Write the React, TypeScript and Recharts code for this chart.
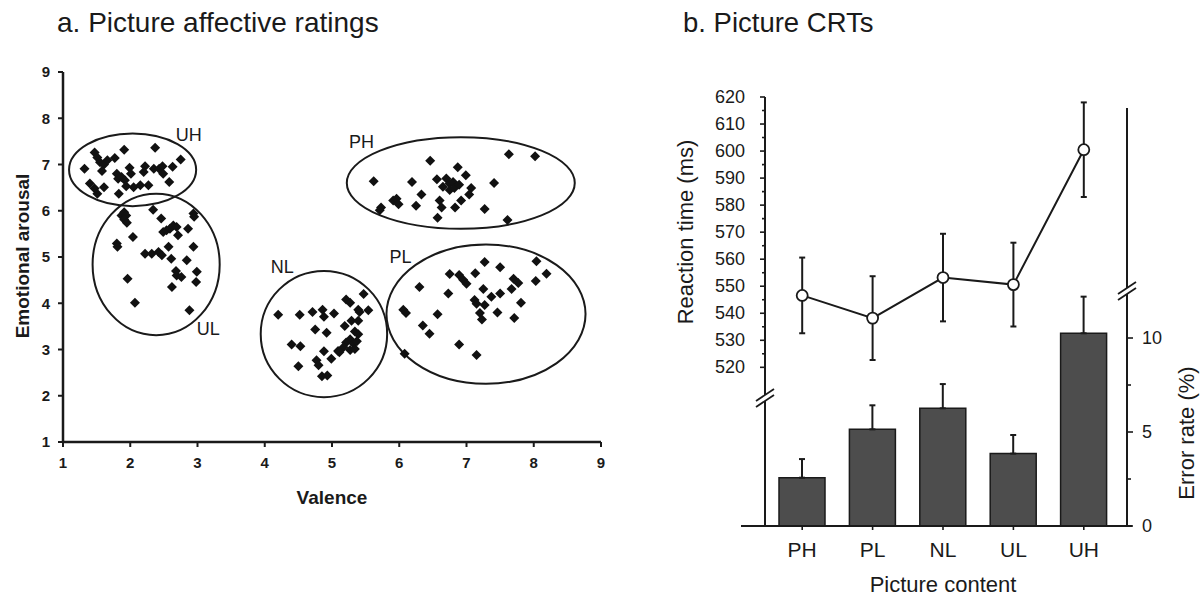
import React from 'react';
import {
  ScatterChart, Scatter, XAxis, YAxis, ReferenceArea, ReferenceDot,
  ComposedChart, Bar, Line, ErrorBar,
} from 'recharts';

const FONT = '"Liberation Sans", Arial, Helvetica, sans-serif';
const INK = '#1a1a1a';

// ---------- Panel a: picture affective ratings (valence, arousal) ----------
const uhPoints: [number, number][] = [
  [1.32, 6.91], [1.47, 7.26], [1.51, 7.15], [1.55, 7.05], [1.61, 7.0], [1.58, 6.86], [1.66, 7.09],
  [1.77, 7.14], [1.91, 7.32], [1.8, 6.8], [1.82, 6.69], [1.87, 6.73], [1.92, 6.66], [1.99, 6.93],
  [2.01, 6.8], [2.05, 6.51], [2.15, 6.55], [2.22, 6.96], [2.2, 6.84], [2.27, 6.55], [2.37, 7.36],
  [2.35, 6.91], [2.43, 6.91], [2.48, 6.96], [2.49, 6.8], [2.58, 6.62], [2.63, 6.95], [2.75, 7.11],
  [1.4, 6.59], [1.47, 6.48], [1.51, 6.37], [1.61, 6.51], [1.83, 6.37], [1.94, 6.53],
];
const ulPoints: [number, number][] = [
  [1.91, 5.97], [1.87, 5.9], [1.94, 5.9], [1.91, 5.81], [1.95, 5.74], [1.8, 5.29], [1.81, 5.22],
  [2.04, 5.43], [2.34, 6.02], [2.46, 5.83], [2.49, 5.54], [2.54, 5.58], [2.59, 5.61], [2.64, 5.68],
  [2.69, 5.65], [2.71, 5.47], [2.86, 5.61], [2.94, 5.94], [2.95, 5.87], [2.94, 5.22], [2.22, 5.07],
  [2.32, 5.07], [2.42, 5.11], [2.47, 5.04], [2.57, 5.22], [2.61, 4.96], [2.84, 4.93], [2.68, 4.7],
  [2.69, 4.6], [2.76, 4.57], [2.99, 4.68], [2.98, 4.46], [2.62, 4.35], [1.96, 4.53], [2.07, 4.01],
  [2.88, 3.85],
];
const nlPoints: [number, number][] = [
  [4.2, 3.75], [4.52, 3.75], [4.71, 3.81], [4.86, 3.86], [4.88, 3.71], [5.03, 3.78], [4.75, 3.43],
  [4.92, 3.36], [4.4, 3.11], [4.53, 3.07], [4.5, 2.64], [4.88, 2.96], [4.77, 2.77], [4.8, 2.66],
  [4.99, 2.8], [4.85, 2.42], [4.93, 2.44], [5.21, 4.08], [5.27, 4.01], [5.47, 4.2], [5.54, 3.85],
  [5.39, 3.86], [5.41, 3.81], [5.19, 3.51], [5.29, 3.62], [5.39, 3.62], [5.34, 3.39], [5.39, 3.33],
  [5.27, 3.22], [5.21, 3.15], [5.32, 3.13], [5.17, 3.05], [5.09, 2.97], [5.11, 2.94], [5.27, 2.99],
  [5.34, 3.01], [5.37, 3.18],
];
const plPoints: [number, number][] = [
  [6.06, 3.86], [6.1, 3.79], [6.3, 4.35], [6.35, 3.52], [6.45, 3.34], [6.08, 2.91], [6.57, 3.76],
  [6.73, 4.21], [6.75, 4.63], [6.89, 4.61], [6.95, 4.51], [7.0, 4.42], [7.13, 4.65], [7.27, 4.89],
  [7.5, 4.78], [7.25, 4.31], [7.12, 4.07], [7.15, 3.99], [7.27, 3.96], [7.37, 4.14], [7.5, 4.21],
  [7.67, 4.31], [7.7, 4.53], [7.77, 4.44], [7.81, 4.01], [7.71, 3.68], [7.46, 3.8], [7.2, 3.79],
  [7.23, 3.65], [6.89, 3.11], [7.15, 2.88], [8.04, 4.91], [8.03, 4.48], [8.19, 4.64],
];
const phPoints: [number, number][] = [
  [5.62, 6.64], [5.73, 6.07], [5.71, 6.01], [5.91, 6.22], [5.96, 6.26], [5.99, 6.14], [6.19, 6.62],
  [6.25, 6.11], [6.33, 6.35], [6.46, 7.08], [6.56, 6.68], [6.6, 6.22], [6.63, 6.07], [6.57, 5.85],
  [6.65, 6.52], [6.7, 6.7], [6.75, 6.59], [6.8, 6.62], [6.75, 6.45], [6.82, 6.49], [6.87, 6.94],
  [6.89, 6.56], [6.99, 6.77], [7.07, 6.49], [7.04, 6.35], [6.92, 6.22], [6.83, 6.07], [7.27, 6.04],
  [7.41, 6.6], [7.63, 7.22], [8.02, 7.18], [7.61, 5.8],
];

const valenceTicks = [1, 2, 3, 4, 5, 6, 7, 8, 9];
const arousalTicks = [1, 2, 3, 4, 5, 6, 7, 8, 9];

const clusterNames = ['UH', 'UL', 'PH', 'NL', 'PL'];
// ellipse bounds in data units: [valence min, valence max, arousal min, arousal max]
const clusterBounds: [number, number, number, number][] = [
  [1.09, 2.98, 6.1, 7.67],
  [1.44, 3.33, 3.31, 6.37],
  [5.22, 8.61, 5.61, 7.59],
  [3.94, 5.82, 1.97, 4.7],
  [5.81, 8.77, 2.26, 5.27],
];
const clusterLabelAt: [number, number][] = [
  [2.87, 7.63], [3.16, 3.45], [5.44, 7.49], [4.26, 4.78], [6.02, 4.99],
];

// ---------- Panel b: picture CRTs ----------
const categories = ['PH', 'PL', 'NL', 'UL', 'UH'];
const rtMeans = [546.6, 538.2, 553.2, 550.6, 600.5];
const rtSem = [14.0, 15.5, 16.2, 15.5, 17.5];
const errorRates = [2.57, 5.14, 6.26, 3.85, 10.25];
const errorRateSem = [0.99, 1.28, 1.29, 0.99, 1.95];
const rtTicks = [520, 525, 530, 535, 540, 545, 550, 555, 560, 565, 570, 575, 580, 585, 590, 595, 600, 605, 610, 615, 620];
const errTicks = [0, 2.5, 5, 7.5, 10];

const scatterData = [...uhPoints, ...ulPoints, ...nlPoints, ...plPoints, ...phPoints].map(([x, y]) => ({ x, y }));

const crtData = categories.map((name, i) => ({
  name,
  rt: rtMeans[i],
  rtErr: rtSem[i],
  err: errorRates[i],
  errRange: [0, errorRateSem[i]],
}));

const Diamond = (p: any) => {
  const { cx, cy } = p;
  const s = 5;
  return <polygon points={`${cx},${cy - s} ${cx + s},${cy} ${cx},${cy + s} ${cx - s},${cy}`} fill="#111" />;
};

const EllipseShape = (p: any) => {
  const { x, y, width, height } = p;
  const w = Math.abs(width);
  const h = Math.abs(height);
  const left = Math.min(x, x + width);
  const top = Math.min(y, y + height);
  return <ellipse cx={left + w / 2} cy={top + h / 2} rx={w / 2} ry={h / 2} fill="none" stroke={INK} strokeWidth={2} />;
};

const RT_TICK_SIZE = 5;
const RT_TICK_MARGIN = 15;
const RtTick = (props: any) => {
  const { x, y, payload } = props;
  const v = payload.value;
  const axisX = x + RT_TICK_SIZE + RT_TICK_MARGIN;
  const major = v % 10 === 0;
  return (
    <g>
      <line x1={axisX - (major ? 5 : 3)} x2={axisX} y1={y} y2={y} stroke={INK} strokeWidth={1.6} />
      {major && (
        <text x={x} y={y} textAnchor="end" dominantBaseline="central" fontSize={18} fill={INK} fontFamily={FONT}>{v}</text>
      )}
    </g>
  );
};

const ERR_TICK_SIZE = 5;
const ERR_TICK_MARGIN = 10;
const ErrTick = (props: any) => {
  const { x, y, payload } = props;
  const v = payload.value;
  const axisX = x - ERR_TICK_SIZE - ERR_TICK_MARGIN;
  const major = v % 5 === 0;
  return (
    <g>
      <line x1={axisX} x2={axisX + (major ? 6 : 4)} y1={y} y2={y} stroke={INK} strokeWidth={1.6} />
      {major && (
        <text x={x} y={y} textAnchor="start" dominantBaseline="central" fontSize={18} fill={INK} fontFamily={FONT}>{v}</text>
      )}
    </g>
  );
};

const BreakMark = ({ cx, cy }: { cx: number; cy: number }) => (
  <g>
    <line x1={cx - 9} y1={cy + 6} x2={cx + 9} y2={cy - 6} stroke="#fff" strokeWidth={5} />
    <line x1={cx - 9} y1={cy + 3} x2={cx + 9} y2={cy - 9} stroke={INK} strokeWidth={1.8} />
    <line x1={cx - 9} y1={cy + 9} x2={cx + 9} y2={cy - 3} stroke={INK} strokeWidth={1.8} />
  </g>
);

export default function App() {
  return (
    <div style={{ position: 'absolute', left: 0, top: 0, width: 1200, height: 596, background: '#fff', fontFamily: FONT }}>
      <div style={{ position: 'absolute', left: 0, top: 0 }}>
        <ScatterChart width={640} height={596} margin={{ top: 72, right: 39, bottom: 124, left: 23 }}>
          <XAxis
            type="number" dataKey="x" domain={[1, 9]} ticks={valenceTicks} interval={0} height={30}
            axisLine={{ stroke: INK, strokeWidth: 2.5 }} tickLine={{ stroke: INK, strokeWidth: 2 }}
            tickSize={5} tickMargin={10}
            tick={{ fontSize: 15, fontWeight: 700, fill: INK, fontFamily: FONT }}
          />
          <YAxis
            type="number" dataKey="y" domain={[1, 9]} ticks={arousalTicks} interval={0} width={40}
            axisLine={{ stroke: INK, strokeWidth: 2.5 }} tickLine={{ stroke: INK, strokeWidth: 2 }}
            tickSize={5} tickMargin={8}
            tick={{ fontSize: 15, fontWeight: 700, fill: INK, fontFamily: FONT }}
          />
          {clusterBounds.map(([x1, x2, y1, y2], i) => (
            <ReferenceArea key={`e${i}`} x1={x1} x2={x2} y1={y1} y2={y2} shape={EllipseShape} />
          ))}
          <Scatter data={scatterData} shape={Diamond} isAnimationActive={false} />
          {clusterLabelAt.map(([x, y], i) => (
            <ReferenceDot
              key={`l${i}`} x={x} y={y} r={0}
              shape={(p: any) => (
                <text x={p.cx} y={p.cy} textAnchor="middle" dominantBaseline="central" fontSize={18} fill={INK} fontFamily={FONT}>
                  {clusterNames[i]}
                </text>
              )}
            />
          ))}
        </ScatterChart>
      </div>

      <div style={{ position: 'absolute', left: 640, top: 0 }}>
        <ComposedChart width={560} height={596} data={crtData} margin={{ top: 97, right: 13, bottom: 40, left: 65 }}>
          <XAxis
            dataKey="name" type="category" height={30} padding={{ left: 2, right: 8 }}
            axisLine={false} tickLine={{ stroke: INK, strokeWidth: 1.6 }} tickSize={4} tickMargin={12}
            tick={{ fontSize: 21, fill: INK, fontFamily: FONT }} interval={0}
          />
          <YAxis
            yAxisId="rt" orientation="left" width={60} domain={[461.3, 620]} ticks={rtTicks} interval={0}
            axisLine={{ stroke: INK, strokeWidth: 2 }} tickLine={false}
            tickSize={RT_TICK_SIZE} tickMargin={RT_TICK_MARGIN} tick={RtTick}
          />
          <YAxis
            yAxisId="err" orientation="right" width={60} domain={[0, 22.82]} ticks={errTicks} interval={0}
            axisLine={false} tickLine={false}
            tickSize={ERR_TICK_SIZE} tickMargin={ERR_TICK_MARGIN} tick={ErrTick}
          />
          <Bar yAxisId="err" dataKey="err" barSize={46} fill="#4d4d4d" stroke={INK} strokeWidth={1.5} isAnimationActive={false}>
            <ErrorBar dataKey="errRange" width={3} stroke={INK} strokeWidth={2} direction="y" />
          </Bar>
          <Line
            yAxisId="rt" dataKey="rt" type="linear" stroke={INK} strokeWidth={2}
            dot={{ r: 5.5, fill: '#fff', stroke: INK, strokeWidth: 1.8 }} activeDot={false} isAnimationActive={false}
          >
            <ErrorBar dataKey="rtErr" width={3} stroke={INK} strokeWidth={2} direction="y" />
          </Line>
        </ComposedChart>
      </div>

      <svg width={1200} height={596} style={{ position: 'absolute', left: 0, top: 0, pointerEvents: 'none' }}>
        <text x={57} y={32} fontSize={28} fill={INK} fontFamily={FONT}>a. Picture affective ratings</text>
        <text x={683} y={32} fontSize={27.5} fill={INK} fontFamily={FONT}>b. Picture CRTs</text>
        <text x={332} y={504} fontSize={19} fontWeight={700} textAnchor="middle" fill={INK} fontFamily={FONT}>Valence</text>
        <text
          x={22} y={256} fontSize={19} fontWeight={700} textAnchor="middle" dominantBaseline="central"
          transform="rotate(-90 22 256)" fill={INK} fontFamily={FONT}
        >Emotional arousal</text>
        <text
          x={685} y={232} fontSize={22} textAnchor="middle" dominantBaseline="central"
          transform="rotate(-90 685 232)" fill={INK} fontFamily={FONT}
        >Reaction time (ms)</text>
        <text
          x={1186} y={433} fontSize={22} textAnchor="middle" dominantBaseline="central"
          transform="rotate(-90 1186 433)" fill={INK} fontFamily={FONT}
        >Error rate (%)</text>
        <text x={943} y={592} fontSize={22} textAnchor="middle" fill={INK} fontFamily={FONT}>Picture content</text>
        <line x1={741} y1={526} x2={1132} y2={526} stroke={INK} strokeWidth={2} />
        <line x1={1127} y1={108} x2={1127} y2={527} stroke={INK} strokeWidth={2} />
        <BreakMark cx={765} cy={398} />
        <BreakMark cx={1127} cy={291} />
      </svg>
    </div>
  );
}
